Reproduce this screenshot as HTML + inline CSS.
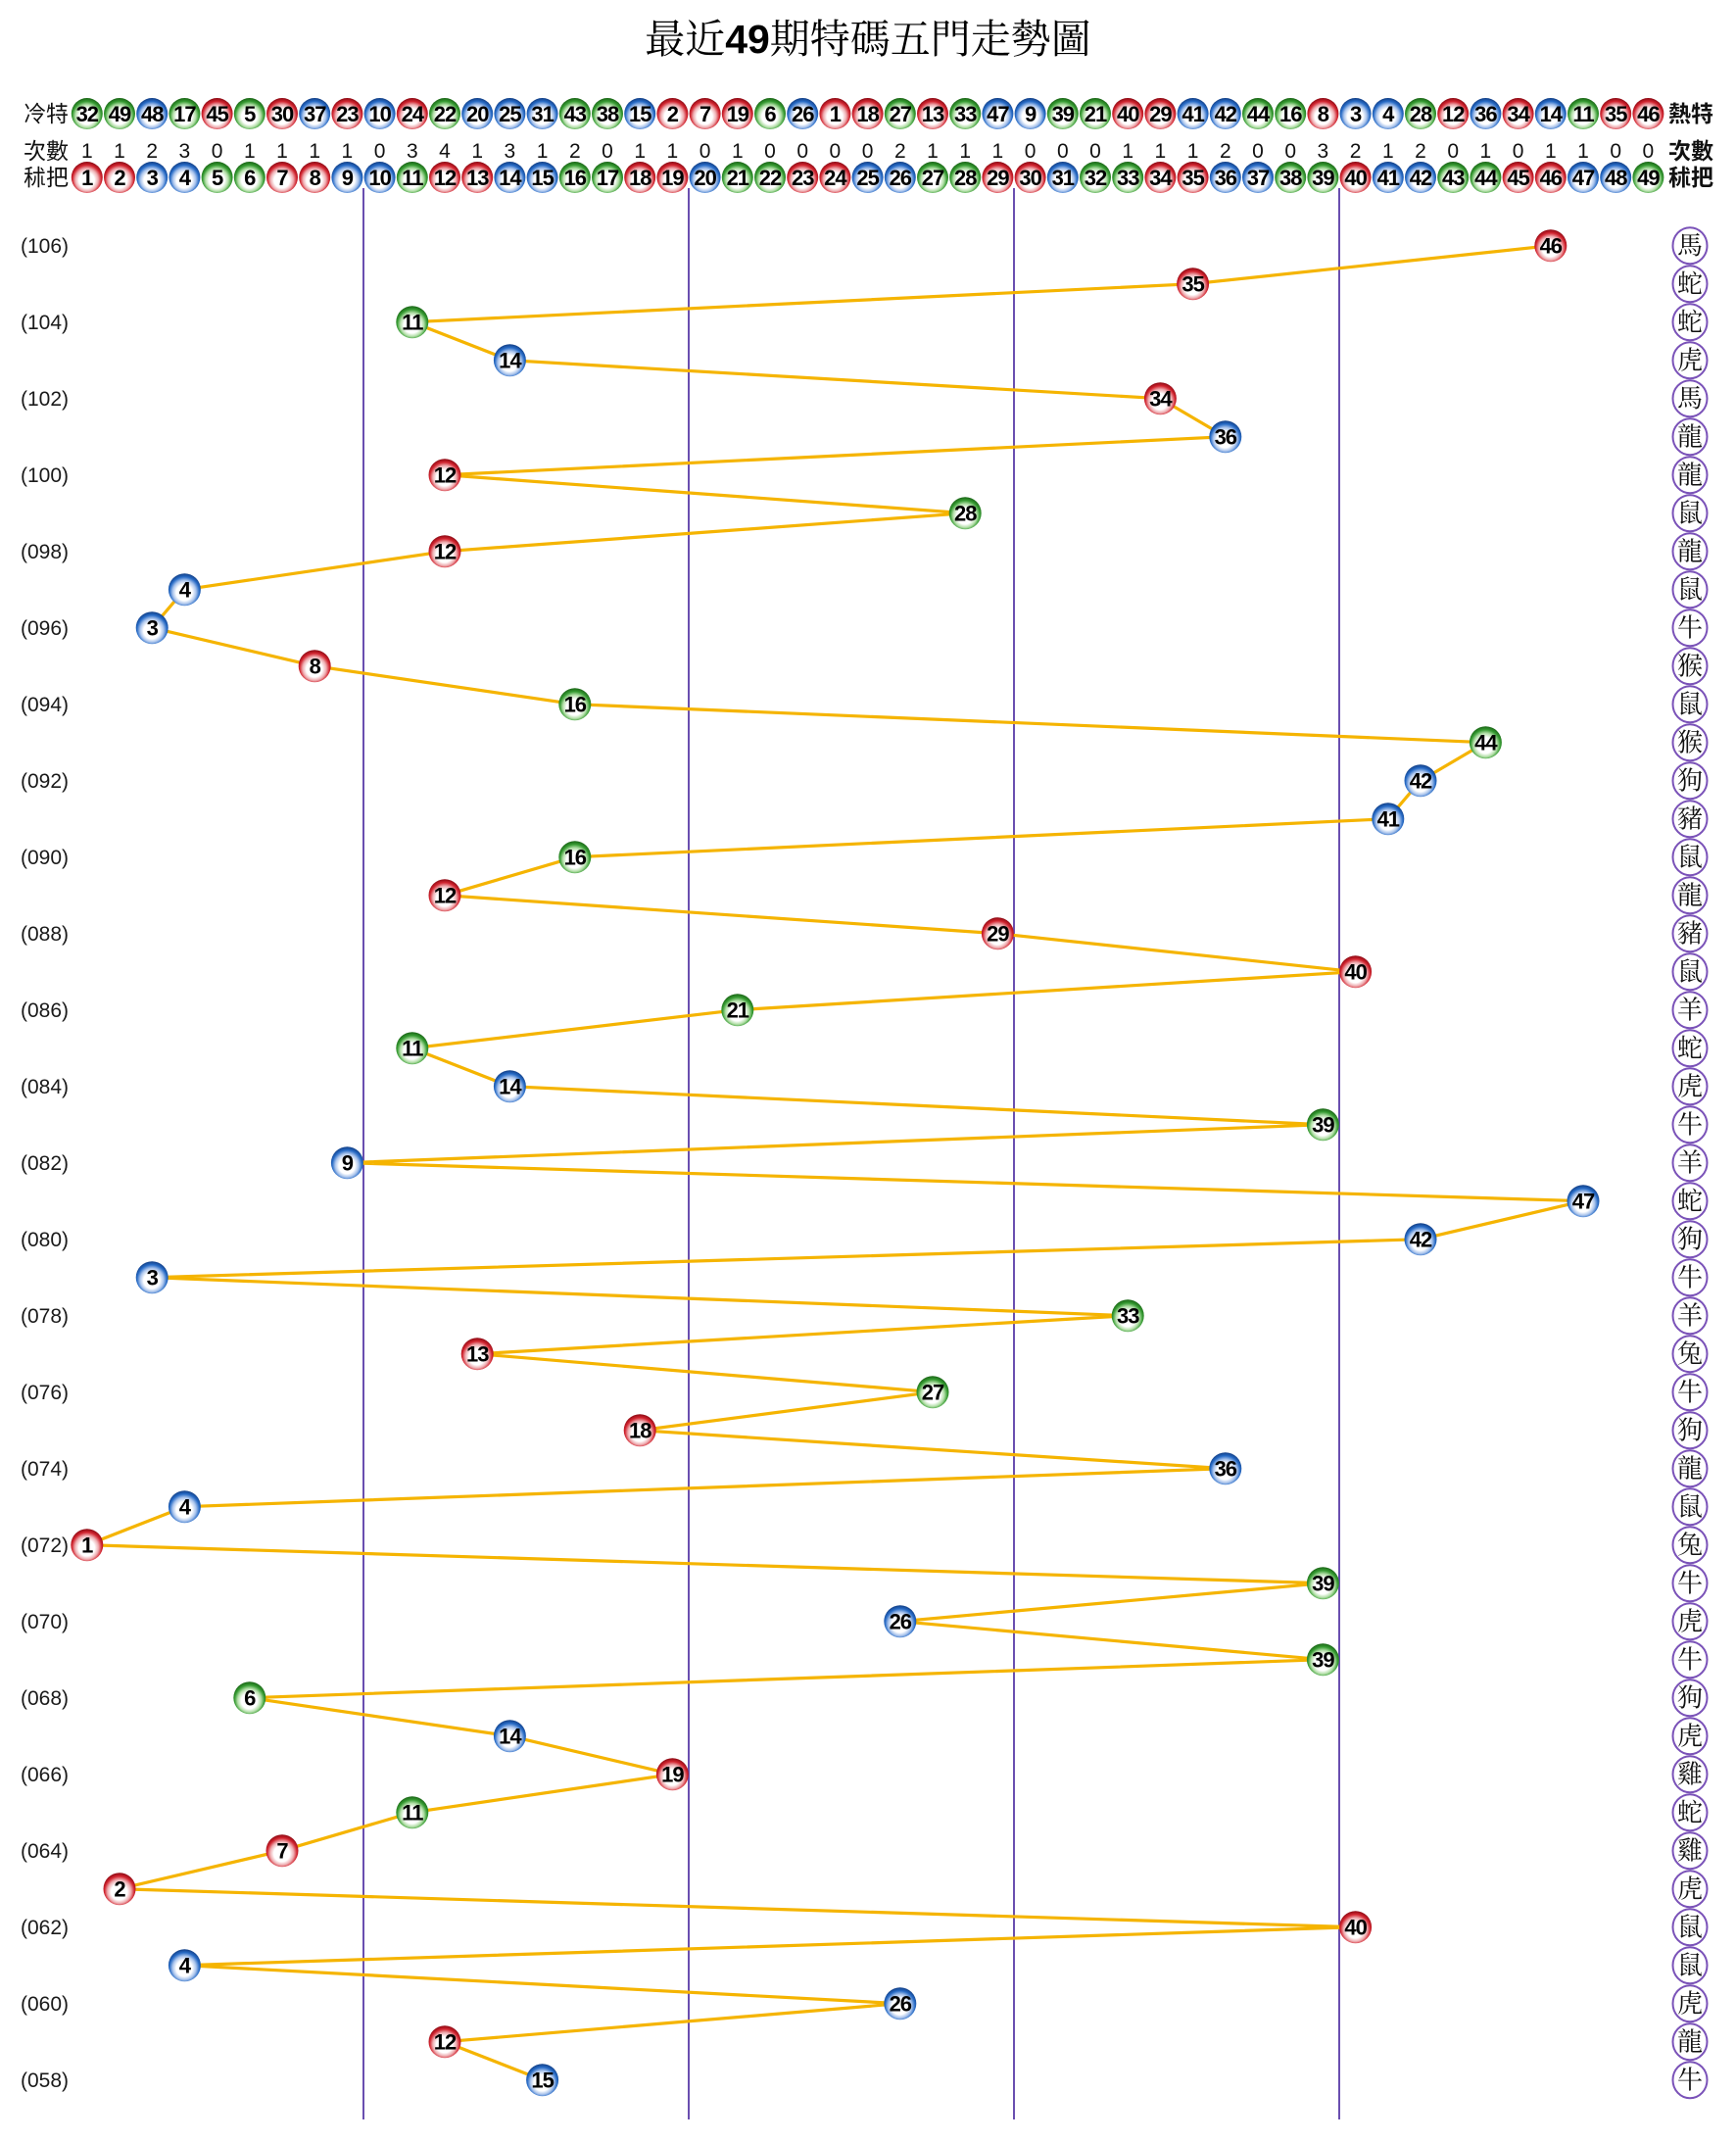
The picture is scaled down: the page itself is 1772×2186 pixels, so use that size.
<!DOCTYPE html>
<html><head><meta charset="utf-8"><style>
html,body{margin:0;padding:0;background:#fff;}
svg{display:block;}
.t{font-family:"Liberation Sans","Noto Serif CJK SC",serif;}
.lab{font-family:"Liberation Sans","Noto Sans CJK TC",sans-serif;font-size:23px;fill:#111;}
.labb{font-family:"Liberation Sans","Noto Sans CJK TC",sans-serif;font-size:23px;font-weight:bold;fill:#111;}
.cnt{font-family:"Liberation Sans",sans-serif;font-size:21px;fill:#111;text-anchor:middle;}
.bl text{font-family:"Liberation Sans",sans-serif;font-weight:bold;font-size:22px;text-anchor:middle;fill:#000;letter-spacing:-1px;}
.r{fill:url(#gr);} .b{fill:url(#gb);} .g{fill:url(#gg);}
.per{font-family:"Liberation Sans",sans-serif;font-size:21px;fill:#1a1a1a;}
.zc{fill:#fff;stroke:#7a52b8;stroke-width:2;}
.zt{font-family:"Liberation Serif","Noto Serif CJK SC",serif;font-size:26px;fill:#111;text-anchor:middle;}
</style></head><body>
<svg width="1772" height="2186" viewBox="0 0 1772 2186" xmlns="http://www.w3.org/2000/svg">
<defs>
<radialGradient id="gr" cx="50%" cy="56%" r="55%" fx="48%" fy="62%">
<stop offset="0" stop-color="#fff"/><stop offset="0.45" stop-color="#fff"/><stop offset="0.66" stop-color="#eeadb1"/><stop offset="0.84" stop-color="#d2242f"/><stop offset="1" stop-color="#900b15"/>
</radialGradient>
<radialGradient id="gb" cx="50%" cy="56%" r="55%" fx="48%" fy="62%">
<stop offset="0" stop-color="#fff"/><stop offset="0.45" stop-color="#fff"/><stop offset="0.66" stop-color="#aac4ec"/><stop offset="0.84" stop-color="#276bc6"/><stop offset="1" stop-color="#134189"/>
</radialGradient>
<radialGradient id="gg" cx="50%" cy="56%" r="55%" fx="48%" fy="62%">
<stop offset="0" stop-color="#fff"/><stop offset="0.45" stop-color="#fff"/><stop offset="0.66" stop-color="#b3dfa8"/><stop offset="0.84" stop-color="#369b32"/><stop offset="1" stop-color="#1b6817"/>
</radialGradient>
</defs>
<rect width="1772" height="2186" fill="#fff"/>

<!-- Title -->
<text class="t" x="886" y="54" font-size="41" text-anchor="middle" fill="#000">最近<tspan font-weight="bold">49</tspan>期特碼五門走勢圖</text>

<!-- Header labels -->
<text class="lab" x="24" y="124">冷特</text>
<text class="lab" x="24" y="162">次數</text>
<text class="lab" x="24" y="189">秫把</text>
<text class="labb" x="1703" y="124">熱特</text>
<text class="labb" x="1703" y="162">次數</text>
<text class="labb" x="1703" y="189">秫把</text>

<!-- vertical lines -->
<g stroke="#6a4fb0" stroke-width="2">
<line x1="371" y1="192" x2="371" y2="2163"/>
<line x1="703" y1="192" x2="703" y2="2163"/>
<line x1="1035" y1="192" x2="1035" y2="2163"/>
<line x1="1367" y1="192" x2="1367" y2="2163"/>
</g>

<!-- 冷特 row -->
<g class="bl">
<g transform="translate(88.8,116)"><circle class="g" r="16"/><text y="8">32</text></g>
<g transform="translate(122,116)"><circle class="g" r="16"/><text y="8">49</text></g>
<g transform="translate(155.2,116)"><circle class="b" r="16"/><text y="8">48</text></g>
<g transform="translate(188.4,116)"><circle class="g" r="16"/><text y="8">17</text></g>
<g transform="translate(221.6,116)"><circle class="r" r="16"/><text y="8">45</text></g>
<g transform="translate(254.8,116)"><circle class="g" r="16"/><text y="8">5</text></g>
<g transform="translate(288,116)"><circle class="r" r="16"/><text y="8">30</text></g>
<g transform="translate(321.2,116)"><circle class="b" r="16"/><text y="8">37</text></g>
<g transform="translate(354.4,116)"><circle class="r" r="16"/><text y="8">23</text></g>
<g transform="translate(387.6,116)"><circle class="b" r="16"/><text y="8">10</text></g>
<g transform="translate(420.8,116)"><circle class="r" r="16"/><text y="8">24</text></g>
<g transform="translate(454,116)"><circle class="g" r="16"/><text y="8">22</text></g>
<g transform="translate(487.2,116)"><circle class="b" r="16"/><text y="8">20</text></g>
<g transform="translate(520.4,116)"><circle class="b" r="16"/><text y="8">25</text></g>
<g transform="translate(553.6,116)"><circle class="b" r="16"/><text y="8">31</text></g>
<g transform="translate(586.8,116)"><circle class="g" r="16"/><text y="8">43</text></g>
<g transform="translate(620,116)"><circle class="g" r="16"/><text y="8">38</text></g>
<g transform="translate(653.2,116)"><circle class="b" r="16"/><text y="8">15</text></g>
<g transform="translate(686.4,116)"><circle class="r" r="16"/><text y="8">2</text></g>
<g transform="translate(719.6,116)"><circle class="r" r="16"/><text y="8">7</text></g>
<g transform="translate(752.8,116)"><circle class="r" r="16"/><text y="8">19</text></g>
<g transform="translate(786,116)"><circle class="g" r="16"/><text y="8">6</text></g>
<g transform="translate(819.2,116)"><circle class="b" r="16"/><text y="8">26</text></g>
<g transform="translate(852.4,116)"><circle class="r" r="16"/><text y="8">1</text></g>
<g transform="translate(885.6,116)"><circle class="r" r="16"/><text y="8">18</text></g>
<g transform="translate(918.8,116)"><circle class="g" r="16"/><text y="8">27</text></g>
<g transform="translate(952,116)"><circle class="r" r="16"/><text y="8">13</text></g>
<g transform="translate(985.2,116)"><circle class="g" r="16"/><text y="8">33</text></g>
<g transform="translate(1018.4,116)"><circle class="b" r="16"/><text y="8">47</text></g>
<g transform="translate(1051.6,116)"><circle class="b" r="16"/><text y="8">9</text></g>
<g transform="translate(1084.8,116)"><circle class="g" r="16"/><text y="8">39</text></g>
<g transform="translate(1118,116)"><circle class="g" r="16"/><text y="8">21</text></g>
<g transform="translate(1151.2,116)"><circle class="r" r="16"/><text y="8">40</text></g>
<g transform="translate(1184.4,116)"><circle class="r" r="16"/><text y="8">29</text></g>
<g transform="translate(1217.6,116)"><circle class="b" r="16"/><text y="8">41</text></g>
<g transform="translate(1250.8,116)"><circle class="b" r="16"/><text y="8">42</text></g>
<g transform="translate(1284,116)"><circle class="g" r="16"/><text y="8">44</text></g>
<g transform="translate(1317.2,116)"><circle class="g" r="16"/><text y="8">16</text></g>
<g transform="translate(1350.4,116)"><circle class="r" r="16"/><text y="8">8</text></g>
<g transform="translate(1383.6,116)"><circle class="b" r="16"/><text y="8">3</text></g>
<g transform="translate(1416.8,116)"><circle class="b" r="16"/><text y="8">4</text></g>
<g transform="translate(1450,116)"><circle class="g" r="16"/><text y="8">28</text></g>
<g transform="translate(1483.2,116)"><circle class="r" r="16"/><text y="8">12</text></g>
<g transform="translate(1516.4,116)"><circle class="b" r="16"/><text y="8">36</text></g>
<g transform="translate(1549.6,116)"><circle class="r" r="16"/><text y="8">34</text></g>
<g transform="translate(1582.8,116)"><circle class="b" r="16"/><text y="8">14</text></g>
<g transform="translate(1616,116)"><circle class="g" r="16"/><text y="8">11</text></g>
<g transform="translate(1649.2,116)"><circle class="r" r="16"/><text y="8">35</text></g>
<g transform="translate(1682.4,116)"><circle class="r" r="16"/><text y="8">46</text></g>
</g>

<!-- 次數 row -->
<text class="cnt" x="88.8" y="161">1</text><text class="cnt" x="122" y="161">1</text><text class="cnt" x="155.2" y="161">2</text><text class="cnt" x="188.4" y="161">3</text><text class="cnt" x="221.6" y="161">0</text><text class="cnt" x="254.8" y="161">1</text><text class="cnt" x="288" y="161">1</text><text class="cnt" x="321.2" y="161">1</text><text class="cnt" x="354.4" y="161">1</text><text class="cnt" x="387.6" y="161">0</text>
<text class="cnt" x="420.8" y="161">3</text><text class="cnt" x="454" y="161">4</text><text class="cnt" x="487.2" y="161">1</text><text class="cnt" x="520.4" y="161">3</text><text class="cnt" x="553.6" y="161">1</text><text class="cnt" x="586.8" y="161">2</text><text class="cnt" x="620" y="161">0</text><text class="cnt" x="653.2" y="161">1</text><text class="cnt" x="686.4" y="161">1</text><text class="cnt" x="719.6" y="161">0</text>
<text class="cnt" x="752.8" y="161">1</text><text class="cnt" x="786" y="161">0</text><text class="cnt" x="819.2" y="161">0</text><text class="cnt" x="852.4" y="161">0</text><text class="cnt" x="885.6" y="161">0</text><text class="cnt" x="918.8" y="161">2</text><text class="cnt" x="952" y="161">1</text><text class="cnt" x="985.2" y="161">1</text><text class="cnt" x="1018.4" y="161">1</text><text class="cnt" x="1051.6" y="161">0</text>
<text class="cnt" x="1084.8" y="161">0</text><text class="cnt" x="1118" y="161">0</text><text class="cnt" x="1151.2" y="161">1</text><text class="cnt" x="1184.4" y="161">1</text><text class="cnt" x="1217.6" y="161">1</text><text class="cnt" x="1250.8" y="161">2</text><text class="cnt" x="1284" y="161">0</text><text class="cnt" x="1317.2" y="161">0</text><text class="cnt" x="1350.4" y="161">3</text><text class="cnt" x="1383.6" y="161">2</text>
<text class="cnt" x="1416.8" y="161">1</text><text class="cnt" x="1450" y="161">2</text><text class="cnt" x="1483.2" y="161">0</text><text class="cnt" x="1516.4" y="161">1</text><text class="cnt" x="1549.6" y="161">0</text><text class="cnt" x="1582.8" y="161">1</text><text class="cnt" x="1616" y="161">1</text><text class="cnt" x="1649.2" y="161">0</text><text class="cnt" x="1682.4" y="161">0</text>

<!-- 秫把 row -->
<g class="bl">
<g transform="translate(88.8,181)"><circle class="r" r="16"/><text y="8">1</text></g>
<g transform="translate(122,181)"><circle class="r" r="16"/><text y="8">2</text></g>
<g transform="translate(155.2,181)"><circle class="b" r="16"/><text y="8">3</text></g>
<g transform="translate(188.4,181)"><circle class="b" r="16"/><text y="8">4</text></g>
<g transform="translate(221.6,181)"><circle class="g" r="16"/><text y="8">5</text></g>
<g transform="translate(254.8,181)"><circle class="g" r="16"/><text y="8">6</text></g>
<g transform="translate(288,181)"><circle class="r" r="16"/><text y="8">7</text></g>
<g transform="translate(321.2,181)"><circle class="r" r="16"/><text y="8">8</text></g>
<g transform="translate(354.4,181)"><circle class="b" r="16"/><text y="8">9</text></g>
<g transform="translate(387.6,181)"><circle class="b" r="16"/><text y="8">10</text></g>
<g transform="translate(420.8,181)"><circle class="g" r="16"/><text y="8">11</text></g>
<g transform="translate(454,181)"><circle class="r" r="16"/><text y="8">12</text></g>
<g transform="translate(487.2,181)"><circle class="r" r="16"/><text y="8">13</text></g>
<g transform="translate(520.4,181)"><circle class="b" r="16"/><text y="8">14</text></g>
<g transform="translate(553.6,181)"><circle class="b" r="16"/><text y="8">15</text></g>
<g transform="translate(586.8,181)"><circle class="g" r="16"/><text y="8">16</text></g>
<g transform="translate(620,181)"><circle class="g" r="16"/><text y="8">17</text></g>
<g transform="translate(653.2,181)"><circle class="r" r="16"/><text y="8">18</text></g>
<g transform="translate(686.4,181)"><circle class="r" r="16"/><text y="8">19</text></g>
<g transform="translate(719.6,181)"><circle class="b" r="16"/><text y="8">20</text></g>
<g transform="translate(752.8,181)"><circle class="g" r="16"/><text y="8">21</text></g>
<g transform="translate(786,181)"><circle class="g" r="16"/><text y="8">22</text></g>
<g transform="translate(819.2,181)"><circle class="r" r="16"/><text y="8">23</text></g>
<g transform="translate(852.4,181)"><circle class="r" r="16"/><text y="8">24</text></g>
<g transform="translate(885.6,181)"><circle class="b" r="16"/><text y="8">25</text></g>
<g transform="translate(918.8,181)"><circle class="b" r="16"/><text y="8">26</text></g>
<g transform="translate(952,181)"><circle class="g" r="16"/><text y="8">27</text></g>
<g transform="translate(985.2,181)"><circle class="g" r="16"/><text y="8">28</text></g>
<g transform="translate(1018.4,181)"><circle class="r" r="16"/><text y="8">29</text></g>
<g transform="translate(1051.6,181)"><circle class="r" r="16"/><text y="8">30</text></g>
<g transform="translate(1084.8,181)"><circle class="b" r="16"/><text y="8">31</text></g>
<g transform="translate(1118,181)"><circle class="g" r="16"/><text y="8">32</text></g>
<g transform="translate(1151.2,181)"><circle class="g" r="16"/><text y="8">33</text></g>
<g transform="translate(1184.4,181)"><circle class="r" r="16"/><text y="8">34</text></g>
<g transform="translate(1217.6,181)"><circle class="r" r="16"/><text y="8">35</text></g>
<g transform="translate(1250.8,181)"><circle class="b" r="16"/><text y="8">36</text></g>
<g transform="translate(1284,181)"><circle class="b" r="16"/><text y="8">37</text></g>
<g transform="translate(1317.2,181)"><circle class="g" r="16"/><text y="8">38</text></g>
<g transform="translate(1350.4,181)"><circle class="g" r="16"/><text y="8">39</text></g>
<g transform="translate(1383.6,181)"><circle class="r" r="16"/><text y="8">40</text></g>
<g transform="translate(1416.8,181)"><circle class="b" r="16"/><text y="8">41</text></g>
<g transform="translate(1450,181)"><circle class="b" r="16"/><text y="8">42</text></g>
<g transform="translate(1483.2,181)"><circle class="g" r="16"/><text y="8">43</text></g>
<g transform="translate(1516.4,181)"><circle class="g" r="16"/><text y="8">44</text></g>
<g transform="translate(1549.6,181)"><circle class="r" r="16"/><text y="8">45</text></g>
<g transform="translate(1582.8,181)"><circle class="r" r="16"/><text y="8">46</text></g>
<g transform="translate(1616,181)"><circle class="b" r="16"/><text y="8">47</text></g>
<g transform="translate(1649.2,181)"><circle class="b" r="16"/><text y="8">48</text></g>
<g transform="translate(1682.4,181)"><circle class="g" r="16"/><text y="8">49</text></g>
</g>

<!-- period labels -->
<text class="per" x="21" y="258">(106)</text>
<text class="per" x="21" y="336">(104)</text>
<text class="per" x="21" y="414">(102)</text>
<text class="per" x="21" y="492">(100)</text>
<text class="per" x="21" y="570">(098)</text>
<text class="per" x="21" y="648">(096)</text>
<text class="per" x="21" y="726">(094)</text>
<text class="per" x="21" y="804">(092)</text>
<text class="per" x="21" y="882">(090)</text>
<text class="per" x="21" y="960">(088)</text>
<text class="per" x="21" y="1038">(086)</text>
<text class="per" x="21" y="1116">(084)</text>
<text class="per" x="21" y="1194">(082)</text>
<text class="per" x="21" y="1272">(080)</text>
<text class="per" x="21" y="1350">(078)</text>
<text class="per" x="21" y="1428">(076)</text>
<text class="per" x="21" y="1506">(074)</text>
<text class="per" x="21" y="1584">(072)</text>
<text class="per" x="21" y="1662">(070)</text>
<text class="per" x="21" y="1740">(068)</text>
<text class="per" x="21" y="1818">(066)</text>
<text class="per" x="21" y="1896">(064)</text>
<text class="per" x="21" y="1974">(062)</text>
<text class="per" x="21" y="2052">(060)</text>
<text class="per" x="21" y="2130">(058)</text>

<!-- trend line -->
<polyline fill="none" stroke="#f5b400" stroke-width="3.2" stroke-linejoin="round" points="1582.8,250.7 1217.6,289.7 420.8,328.7 520.4,367.7 1184.4,406.7 1250.8,445.7 454,484.7 985.2,523.7 454,562.7 188.4,601.7 155.2,640.7 321.2,679.7 586.8,718.7 1516.4,757.7 1450,796.7 1416.8,835.7 586.8,874.7 454,913.7 1018.4,952.7 1383.6,991.7 752.8,1030.7 420.8,1069.7 520.4,1108.7 1350.4,1147.7 354.4,1186.7 1616,1225.7 1450,1264.7 155.2,1303.7 1151.2,1342.7 487.2,1381.7 952,1420.7 653.2,1459.7 1250.8,1498.7 188.4,1537.7 88.8,1576.7 1350.4,1615.7 918.8,1654.7 1350.4,1693.7 254.8,1732.7 520.4,1771.7 686.4,1810.7 420.8,1849.7 288,1888.7 122,1927.7 1383.6,1966.7 188.4,2005.7 918.8,2044.7 454,2083.7 553.6,2122.7"/>

<!-- chart balls -->
<g class="bl">
<g transform="translate(1582.8,250.7)"><circle class="r" r="16.5"/><text y="8">46</text></g>
<g transform="translate(1217.6,289.7)"><circle class="r" r="16.5"/><text y="8">35</text></g>
<g transform="translate(420.8,328.7)"><circle class="g" r="16.5"/><text y="8">11</text></g>
<g transform="translate(520.4,367.7)"><circle class="b" r="16.5"/><text y="8">14</text></g>
<g transform="translate(1184.4,406.7)"><circle class="r" r="16.5"/><text y="8">34</text></g>
<g transform="translate(1250.8,445.7)"><circle class="b" r="16.5"/><text y="8">36</text></g>
<g transform="translate(454,484.7)"><circle class="r" r="16.5"/><text y="8">12</text></g>
<g transform="translate(985.2,523.7)"><circle class="g" r="16.5"/><text y="8">28</text></g>
<g transform="translate(454,562.7)"><circle class="r" r="16.5"/><text y="8">12</text></g>
<g transform="translate(188.4,601.7)"><circle class="b" r="16.5"/><text y="8">4</text></g>
<g transform="translate(155.2,640.7)"><circle class="b" r="16.5"/><text y="8">3</text></g>
<g transform="translate(321.2,679.7)"><circle class="r" r="16.5"/><text y="8">8</text></g>
<g transform="translate(586.8,718.7)"><circle class="g" r="16.5"/><text y="8">16</text></g>
<g transform="translate(1516.4,757.7)"><circle class="g" r="16.5"/><text y="8">44</text></g>
<g transform="translate(1450,796.7)"><circle class="b" r="16.5"/><text y="8">42</text></g>
<g transform="translate(1416.8,835.7)"><circle class="b" r="16.5"/><text y="8">41</text></g>
<g transform="translate(586.8,874.7)"><circle class="g" r="16.5"/><text y="8">16</text></g>
<g transform="translate(454,913.7)"><circle class="r" r="16.5"/><text y="8">12</text></g>
<g transform="translate(1018.4,952.7)"><circle class="r" r="16.5"/><text y="8">29</text></g>
<g transform="translate(1383.6,991.7)"><circle class="r" r="16.5"/><text y="8">40</text></g>
<g transform="translate(752.8,1030.7)"><circle class="g" r="16.5"/><text y="8">21</text></g>
<g transform="translate(420.8,1069.7)"><circle class="g" r="16.5"/><text y="8">11</text></g>
<g transform="translate(520.4,1108.7)"><circle class="b" r="16.5"/><text y="8">14</text></g>
<g transform="translate(1350.4,1147.7)"><circle class="g" r="16.5"/><text y="8">39</text></g>
<g transform="translate(354.4,1186.7)"><circle class="b" r="16.5"/><text y="8">9</text></g>
<g transform="translate(1616,1225.7)"><circle class="b" r="16.5"/><text y="8">47</text></g>
<g transform="translate(1450,1264.7)"><circle class="b" r="16.5"/><text y="8">42</text></g>
<g transform="translate(155.2,1303.7)"><circle class="b" r="16.5"/><text y="8">3</text></g>
<g transform="translate(1151.2,1342.7)"><circle class="g" r="16.5"/><text y="8">33</text></g>
<g transform="translate(487.2,1381.7)"><circle class="r" r="16.5"/><text y="8">13</text></g>
<g transform="translate(952,1420.7)"><circle class="g" r="16.5"/><text y="8">27</text></g>
<g transform="translate(653.2,1459.7)"><circle class="r" r="16.5"/><text y="8">18</text></g>
<g transform="translate(1250.8,1498.7)"><circle class="b" r="16.5"/><text y="8">36</text></g>
<g transform="translate(188.4,1537.7)"><circle class="b" r="16.5"/><text y="8">4</text></g>
<g transform="translate(88.8,1576.7)"><circle class="r" r="16.5"/><text y="8">1</text></g>
<g transform="translate(1350.4,1615.7)"><circle class="g" r="16.5"/><text y="8">39</text></g>
<g transform="translate(918.8,1654.7)"><circle class="b" r="16.5"/><text y="8">26</text></g>
<g transform="translate(1350.4,1693.7)"><circle class="g" r="16.5"/><text y="8">39</text></g>
<g transform="translate(254.8,1732.7)"><circle class="g" r="16.5"/><text y="8">6</text></g>
<g transform="translate(520.4,1771.7)"><circle class="b" r="16.5"/><text y="8">14</text></g>
<g transform="translate(686.4,1810.7)"><circle class="r" r="16.5"/><text y="8">19</text></g>
<g transform="translate(420.8,1849.7)"><circle class="g" r="16.5"/><text y="8">11</text></g>
<g transform="translate(288,1888.7)"><circle class="r" r="16.5"/><text y="8">7</text></g>
<g transform="translate(122,1927.7)"><circle class="r" r="16.5"/><text y="8">2</text></g>
<g transform="translate(1383.6,1966.7)"><circle class="r" r="16.5"/><text y="8">40</text></g>
<g transform="translate(188.4,2005.7)"><circle class="b" r="16.5"/><text y="8">4</text></g>
<g transform="translate(918.8,2044.7)"><circle class="b" r="16.5"/><text y="8">26</text></g>
<g transform="translate(454,2083.7)"><circle class="r" r="16.5"/><text y="8">12</text></g>
<g transform="translate(553.6,2122.7)"><circle class="b" r="16.5"/><text y="8">15</text></g>
</g>

<!-- zodiac column -->
<g>
<ellipse class="zc" cx="1725" cy="250.7" rx="17.5" ry="18.5"/><text class="zt" x="1725" y="259.7">馬</text>
<ellipse class="zc" cx="1725" cy="289.7" rx="17.5" ry="18.5"/><text class="zt" x="1725" y="298.7">蛇</text>
<ellipse class="zc" cx="1725" cy="328.7" rx="17.5" ry="18.5"/><text class="zt" x="1725" y="337.7">蛇</text>
<ellipse class="zc" cx="1725" cy="367.7" rx="17.5" ry="18.5"/><text class="zt" x="1725" y="376.7">虎</text>
<ellipse class="zc" cx="1725" cy="406.7" rx="17.5" ry="18.5"/><text class="zt" x="1725" y="415.7">馬</text>
<ellipse class="zc" cx="1725" cy="445.7" rx="17.5" ry="18.5"/><text class="zt" x="1725" y="454.7">龍</text>
<ellipse class="zc" cx="1725" cy="484.7" rx="17.5" ry="18.5"/><text class="zt" x="1725" y="493.7">龍</text>
<ellipse class="zc" cx="1725" cy="523.7" rx="17.5" ry="18.5"/><text class="zt" x="1725" y="532.7">鼠</text>
<ellipse class="zc" cx="1725" cy="562.7" rx="17.5" ry="18.5"/><text class="zt" x="1725" y="571.7">龍</text>
<ellipse class="zc" cx="1725" cy="601.7" rx="17.5" ry="18.5"/><text class="zt" x="1725" y="610.7">鼠</text>
<ellipse class="zc" cx="1725" cy="640.7" rx="17.5" ry="18.5"/><text class="zt" x="1725" y="649.7">牛</text>
<ellipse class="zc" cx="1725" cy="679.7" rx="17.5" ry="18.5"/><text class="zt" x="1725" y="688.7">猴</text>
<ellipse class="zc" cx="1725" cy="718.7" rx="17.5" ry="18.5"/><text class="zt" x="1725" y="727.7">鼠</text>
<ellipse class="zc" cx="1725" cy="757.7" rx="17.5" ry="18.5"/><text class="zt" x="1725" y="766.7">猴</text>
<ellipse class="zc" cx="1725" cy="796.7" rx="17.5" ry="18.5"/><text class="zt" x="1725" y="805.7">狗</text>
<ellipse class="zc" cx="1725" cy="835.7" rx="17.5" ry="18.5"/><text class="zt" x="1725" y="844.7">豬</text>
<ellipse class="zc" cx="1725" cy="874.7" rx="17.5" ry="18.5"/><text class="zt" x="1725" y="883.7">鼠</text>
<ellipse class="zc" cx="1725" cy="913.7" rx="17.5" ry="18.5"/><text class="zt" x="1725" y="922.7">龍</text>
<ellipse class="zc" cx="1725" cy="952.7" rx="17.5" ry="18.5"/><text class="zt" x="1725" y="961.7">豬</text>
<ellipse class="zc" cx="1725" cy="991.7" rx="17.5" ry="18.5"/><text class="zt" x="1725" y="1000.7">鼠</text>
<ellipse class="zc" cx="1725" cy="1030.7" rx="17.5" ry="18.5"/><text class="zt" x="1725" y="1039.7">羊</text>
<ellipse class="zc" cx="1725" cy="1069.7" rx="17.5" ry="18.5"/><text class="zt" x="1725" y="1078.7">蛇</text>
<ellipse class="zc" cx="1725" cy="1108.7" rx="17.5" ry="18.5"/><text class="zt" x="1725" y="1117.7">虎</text>
<ellipse class="zc" cx="1725" cy="1147.7" rx="17.5" ry="18.5"/><text class="zt" x="1725" y="1156.7">牛</text>
<ellipse class="zc" cx="1725" cy="1186.7" rx="17.5" ry="18.5"/><text class="zt" x="1725" y="1195.7">羊</text>
<ellipse class="zc" cx="1725" cy="1225.7" rx="17.5" ry="18.5"/><text class="zt" x="1725" y="1234.7">蛇</text>
<ellipse class="zc" cx="1725" cy="1264.7" rx="17.5" ry="18.5"/><text class="zt" x="1725" y="1273.7">狗</text>
<ellipse class="zc" cx="1725" cy="1303.7" rx="17.5" ry="18.5"/><text class="zt" x="1725" y="1312.7">牛</text>
<ellipse class="zc" cx="1725" cy="1342.7" rx="17.5" ry="18.5"/><text class="zt" x="1725" y="1351.7">羊</text>
<ellipse class="zc" cx="1725" cy="1381.7" rx="17.5" ry="18.5"/><text class="zt" x="1725" y="1390.7">兔</text>
<ellipse class="zc" cx="1725" cy="1420.7" rx="17.5" ry="18.5"/><text class="zt" x="1725" y="1429.7">牛</text>
<ellipse class="zc" cx="1725" cy="1459.7" rx="17.5" ry="18.5"/><text class="zt" x="1725" y="1468.7">狗</text>
<ellipse class="zc" cx="1725" cy="1498.7" rx="17.5" ry="18.5"/><text class="zt" x="1725" y="1507.7">龍</text>
<ellipse class="zc" cx="1725" cy="1537.7" rx="17.5" ry="18.5"/><text class="zt" x="1725" y="1546.7">鼠</text>
<ellipse class="zc" cx="1725" cy="1576.7" rx="17.5" ry="18.5"/><text class="zt" x="1725" y="1585.7">兔</text>
<ellipse class="zc" cx="1725" cy="1615.7" rx="17.5" ry="18.5"/><text class="zt" x="1725" y="1624.7">牛</text>
<ellipse class="zc" cx="1725" cy="1654.7" rx="17.5" ry="18.5"/><text class="zt" x="1725" y="1663.7">虎</text>
<ellipse class="zc" cx="1725" cy="1693.7" rx="17.5" ry="18.5"/><text class="zt" x="1725" y="1702.7">牛</text>
<ellipse class="zc" cx="1725" cy="1732.7" rx="17.5" ry="18.5"/><text class="zt" x="1725" y="1741.7">狗</text>
<ellipse class="zc" cx="1725" cy="1771.7" rx="17.5" ry="18.5"/><text class="zt" x="1725" y="1780.7">虎</text>
<ellipse class="zc" cx="1725" cy="1810.7" rx="17.5" ry="18.5"/><text class="zt" x="1725" y="1819.7">雞</text>
<ellipse class="zc" cx="1725" cy="1849.7" rx="17.5" ry="18.5"/><text class="zt" x="1725" y="1858.7">蛇</text>
<ellipse class="zc" cx="1725" cy="1888.7" rx="17.5" ry="18.5"/><text class="zt" x="1725" y="1897.7">雞</text>
<ellipse class="zc" cx="1725" cy="1927.7" rx="17.5" ry="18.5"/><text class="zt" x="1725" y="1936.7">虎</text>
<ellipse class="zc" cx="1725" cy="1966.7" rx="17.5" ry="18.5"/><text class="zt" x="1725" y="1975.7">鼠</text>
<ellipse class="zc" cx="1725" cy="2005.7" rx="17.5" ry="18.5"/><text class="zt" x="1725" y="2014.7">鼠</text>
<ellipse class="zc" cx="1725" cy="2044.7" rx="17.5" ry="18.5"/><text class="zt" x="1725" y="2053.7">虎</text>
<ellipse class="zc" cx="1725" cy="2083.7" rx="17.5" ry="18.5"/><text class="zt" x="1725" y="2092.7">龍</text>
<ellipse class="zc" cx="1725" cy="2122.7" rx="17.5" ry="18.5"/><text class="zt" x="1725" y="2131.7">牛</text>
</g>
</svg>
</body></html>
